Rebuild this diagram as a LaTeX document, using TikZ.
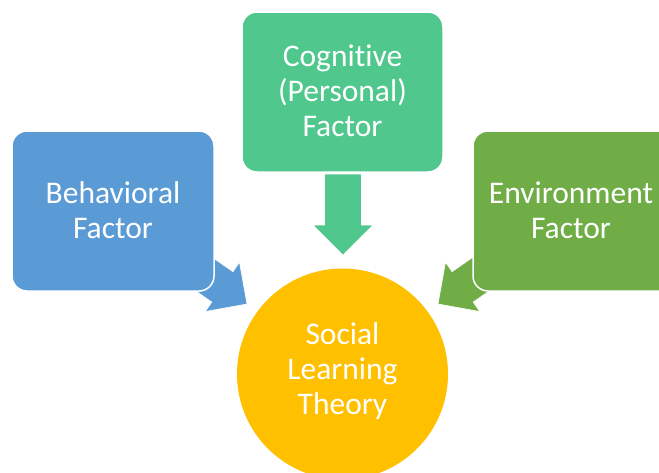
\documentclass[tikz,border=0pt]{standalone}
\usepackage{fontspec}
\setmainfont{Carlito}[Ligatures={NoCommon}]
\definecolor{bluebox}{RGB}{91,155,213}
\definecolor{tealbox}{RGB}{80,199,140}
\definecolor{greenbox}{RGB}{112,173,71}
\definecolor{goldcirc}{RGB}{255,192,0}
\tikzset{
  factorbox/.style={draw=white, line width=1.5pt, rounded corners=15pt},
  blockarrow/.style={draw=white, line width=0.6pt},
  lbl/.style={text=white, align=center, font=\fontsize{31.5}{35}\selectfont}
}
\newcommand{\blockarrowshape}{(-81,-18.5) -- (-30,-18.5) -- (-30,-30) -- (0,0) -- (-30,30) -- (-30,18.5) -- (-81,18.5) -- cycle}
\begin{document}
\begin{tikzpicture}[x=1pt,y=-1pt]
\useasboundingbox (0,0) rectangle (659,472);
\clip (0,0) rectangle (659,472);
\fill[white] (0,0) rectangle (659,472);
% arrows
\draw[blockarrow, fill=bluebox, shift={(247,304)}, rotate=-34.8] \blockarrowshape;
\draw[blockarrow, fill=tealbox, shift={(343,255)}, rotate=-90] \blockarrowshape;
\draw[blockarrow, fill=greenbox, shift={(438,304)}, rotate=-145.2] \blockarrowshape;
% boxes
\draw[factorbox, fill=bluebox] (12,131) rectangle (214,291);
\node[lbl] (beh) at (113,210) {Behavioral\\Factor};
\draw[factorbox, fill=tealbox] (242,12) rectangle (443,172);
\node[lbl] (cog) at (342.5,91) {Cognitive\\(Personal)\\Factor};
\draw[factorbox, fill=greenbox] (473,131) rectangle (675,291);
\node[lbl] (env) at (571,210) {Environment\\Factor};
% circle
\fill[goldcirc] (342.5,374) circle (105.5);
\node[lbl] (slt) at (342.5,371) {Social\\Learning\\Theory};
\end{tikzpicture}
\end{document}
